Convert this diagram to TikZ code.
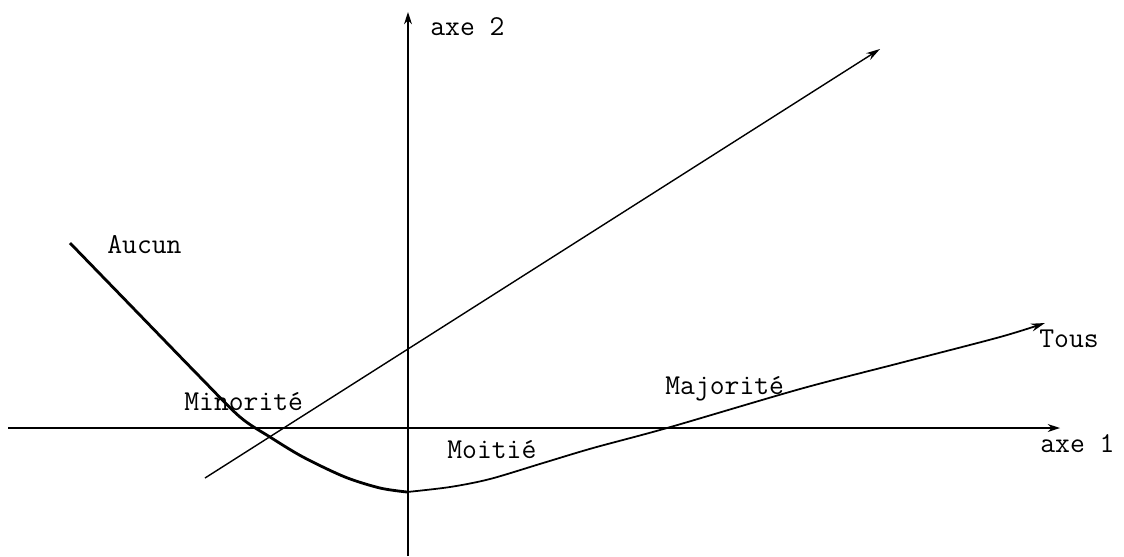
\documentclass[tikz,border=0pt]{standalone}
\usepackage{fontspec}
\usetikzlibrary{arrows.meta, positioning}

\begin{document}
\begin{tikzpicture}[
  x=0.02cm, y=-0.02cm,
  % --- Lines ---
  axis/.style={-{Stealth[length=7pt, width=4.5pt]}, line width=0.8pt},
  ray/.style={-{Stealth[length=8pt, width=4.5pt]}, line width=0.8pt},
  tracethick/.style={line width=1.6pt, line join=round},
  tracethin/.style={-{Stealth[length=8pt, width=4.5pt]}, line width=1pt},
  % --- Labels ---
  lbl/.style={font=\ttfamily\fontsize{16.4}{18}\selectfont, inner sep=0pt, anchor=base west},
]
\useasboundingbox (0,0) rectangle (1124,556);

% ===================== AXES =====================
\coordinate (west) at (8,428);
\coordinate (east) at (1060,428);
\coordinate (south) at (408,556);
\coordinate (north) at (408,12);

\draw[axis] (west) -- (east);
\draw[axis] (south) -- (north);

\node[lbl] (axe2) at (430,35) {axe 2};
\node[lbl] (axe1) at (1040,452) {axe 1};

% ================ STRAIGHT LINE ================
\coordinate (raystart) at (205,478);
\coordinate (rayend) at (880,49);
\draw[ray] (raystart) -- (rayend);

% ================ CURVE ================
\coordinate (aucun) at (70,243);
\coordinate (moitie) at (407,492);
\coordinate (tous) at (1045,323);

\draw[tracethick] plot[smooth, tension=0.5] coordinates {
  (aucun) (135,310) (200,377) (240,417) (270,437) (303,457)
  (345,477) (380,488) (moitie)};
\draw[tracethin] plot[smooth, tension=0.5] coordinates {
  (moitie) (450,487) (490,479) (543,463) (593,448) (667,428)
  (800,389) (900,363) (1000,337) (tous)};

% ================ LABELS ================
\node[lbl] (aucunlbl) at (107,253) {Aucun};
\node[lbl] (minorite) at (184,410) {Minorité};
\node[lbl] (moitielbl) at (447,458) {Moitié};
\node[lbl] (majorite) at (665,394) {Majorité};
\node[lbl] (touslbl) at (1039,347) {Tous};

\end{tikzpicture}
\end{document}
